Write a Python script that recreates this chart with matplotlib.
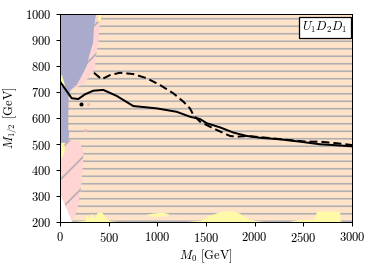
import numpy as np
import matplotlib
matplotlib.use("Agg")
from matplotlib import pyplot as plt

plt.rcParams['mathtext.fontset'] = 'cm'
plt.rcParams['font.family'] = 'cmr10'
plt.rcParams['axes.formatter.use_mathtext'] = True
plt.rcParams['hatch.linewidth'] = 1.3

# region outlines (M0, M1/2) in GeV
purple_m0 = [0, 370, 350, 340, 300, 275, 220, 170, 113, 90, 85, 85, 95, 80, 0]
purple_m12 = [1000, 1000, 950, 890, 840, 800, 760, 727, 708, 690, 600, 560, 540, 505, 505]

pink_top_m0 = [0, 440, 405, 395, 365, 360, 300, 240, 150, 0]
pink_top_m12 = [1000, 1000, 950, 890, 830, 790, 760, 730, 715, 715]

pink_low_m0 = [0, 0, 90, 200, 240, 235, 215, 180, 140, 125]
pink_low_m12 = [310, 510, 515, 510, 470, 420, 330, 250, 215, 200]

white_m0 = [0, 0, 125]
white_m12 = [200, 310, 200]

yellow_patches = [
    ([0, 0, 20, 45, 50], [720, 765, 765, 735, 720]),
    ([0, 0, 45, 50, 30], [445, 503, 503, 470, 450]),
    ([390, 430, 420, 395], [1000, 1000, 975, 965]),
    ([130, 260, 280, 305, 330, 355, 390, 440, 470, 520, 600],
     [200, 204, 228, 213, 232, 214, 236, 234, 215, 203, 200]),
    ([880, 950, 1050, 1130, 1080, 950], [226, 232, 236, 230, 222, 220]),
    ([1300, 1450, 1550, 1650, 1750, 1850, 1950, 2050, 2100],
     [200, 205, 225, 238, 243, 232, 208, 202, 200]),
    ([2350, 2450, 2620, 2640, 2880, 2880, 2900],
     [200, 207, 210, 240, 240, 205, 200]),
]

# limit lines
solid_m0 = [0, 120, 188, 257, 342, 445, 582, 753, 993, 1198, 1335, 1438, 1507,
            1644, 1781, 1918, 2054, 2260, 2466, 2671, 2808, 3000]
solid_m12 = [740, 676, 673, 691, 705, 708, 685, 646, 637, 624, 605, 596, 580,
             564, 544, 531, 524, 518, 509, 499, 496, 491]

dash_m0 = [349, 428, 514, 616, 753, 890, 1027, 1164, 1267, 1335, 1370, 1438,
           1575, 1746, 1815, 1918, 2123, 2362, 2534, 2671, 2842, 3000]
dash_m12 = [774, 749, 765, 774, 769, 753, 727, 695, 663, 637, 612, 586,
            560, 531, 528, 531, 524, 515, 509, 509, 503, 496]

dot_m0, dot_m12 = [216], [654]
pink_dots_m0, pink_dots_m12 = [290, 257], [653, 554]

peach = '#ffe3c9'
pink = '#ffd4d2'
purple = '#aaaacc'
yellow = '#fffaa8'
hatchc = '#b0b0b2'

fig = plt.figure(figsize=(374 / 90, 268 / 90), dpi=90)
ax = fig.add_axes([0.1604, 0.1716, 0.7808, 0.7762])

ax.fill([0, 3000, 3000, 0], [200, 200, 1000, 1000], facecolor=peach,
        edgecolor=hatchc, hatch='--', linewidth=0)
ax.fill(pink_top_m0, pink_top_m12, facecolor=pink, edgecolor=hatchc,
        hatch='/', linewidth=0)
ax.fill(pink_low_m0, pink_low_m12, facecolor=pink, edgecolor=hatchc,
        hatch='/', linewidth=0)
ax.fill(purple_m0, purple_m12, facecolor=purple, linewidth=0)
for xs, ys in yellow_patches:
    ax.fill(xs, ys, facecolor=yellow, linewidth=0)
ax.fill(white_m0, white_m12, facecolor='white', linewidth=0)
ax.scatter(pink_dots_m0, pink_dots_m12, s=6, color='#f4b8b8', linewidths=0,
           zorder=3)

ax.plot(solid_m0, solid_m12, color='black', lw=1.6, zorder=4)
ax.plot(dash_m0, dash_m12, color='black', lw=1.6, ls=(0, (4, 2)), zorder=4)
ax.scatter(dot_m0, dot_m12, s=5, color='black', zorder=5)

ax.text(0.985, 0.97, r'$U_1D_2D_1$', transform=ax.transAxes, ha='right',
        va='top', fontsize=10,
        bbox=dict(boxstyle='square,pad=0.25', facecolor='white',
                  edgecolor='black', linewidth=1.0))

ax.set_xlim(0, 3000)
ax.set_ylim(200, 1000)
ax.set_xticks(np.arange(0, 3001, 500))
ax.set_yticks(np.arange(200, 1001, 100))
ax.tick_params(direction='out', labelsize=10, length=3.5, top=False,
               right=False)
ax.set_xlabel(r'$M_0$ [GeV]', fontsize=10, labelpad=2)
ax.set_ylabel(r'$M_{1/2}$ [GeV]', fontsize=10, labelpad=4)

fig.savefig('out.png', dpi=90)
